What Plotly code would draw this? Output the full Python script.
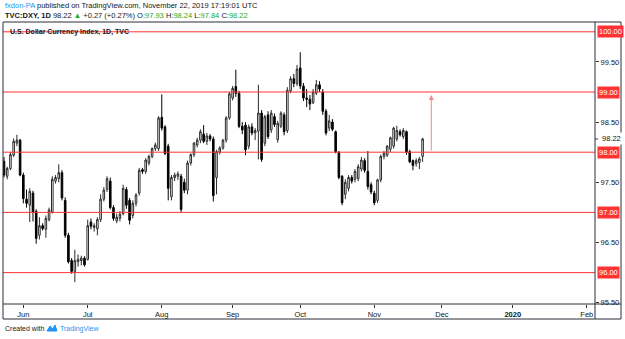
import plotly.graph_objects as go
import pandas as pd

# ---------------- data ----------------
start_date = "2019-05-24"
opens = [97.85, 97.60, 97.73, 97.95, 98.15, 98.20, 97.62, 97.22, 97.12, 97.32,
         97.02, 96.62, 96.78, 96.72, 96.88, 97.00, 97.52, 97.56, 97.66, 97.20,
         96.62, 96.20, 96.02, 96.18, 96.20, 96.24, 96.22, 96.84, 96.75, 96.73,
         96.88, 97.22, 97.38, 97.52, 97.08, 96.86, 96.90, 96.98, 97.38, 97.20,
         96.95, 97.15, 97.32, 97.71, 97.68, 97.82, 97.93, 98.06, 98.06, 98.58,
         98.42, 98.10, 97.26, 97.58, 97.60, 97.60, 97.50, 97.37, 97.82, 97.96,
         98.12, 98.20, 98.30, 98.18, 98.27, 98.22, 97.58, 98.00, 98.07, 98.20,
         98.57, 98.90, 99.09, 98.98, 98.43, 98.45, 98.10, 98.42, 98.32, 98.35,
         98.65, 98.15, 98.62, 98.37, 98.59, 98.21, 98.43, 98.62, 98.36, 99.02,
         99.22, 99.14, 99.40, 99.10, 98.90, 98.88, 98.82, 98.98, 99.12, 99.00,
         98.68, 98.40, 98.50, 98.34, 98.00, 97.60, 97.30, 97.40, 97.58, 97.55,
         97.56, 97.72, 97.86, 97.68, 97.46, 97.32, 97.20, 97.54, 97.93, 97.95,
         98.05, 98.10, 98.22, 98.34, 98.26, 98.34, 98.01, 97.86, 97.81, 97.83,
         97.93]
highs = [97.92, 97.76, 98.00, 98.23, 98.29, 98.22, 97.66, 97.38, 97.40, 97.36,
         97.05, 96.92, 96.82, 96.95, 97.08, 97.60, 97.62, 97.80, 97.70, 97.25,
         96.66, 96.24, 96.38, 96.30, 96.28, 96.27, 96.88, 96.90, 96.82, 96.92,
         97.30, 97.42, 97.60, 97.58, 97.12, 96.98, 97.02, 97.46, 97.42, 97.24,
         97.20, 97.32, 97.74, 97.74, 97.90, 97.96, 98.08, 98.16, 98.60, 98.96,
         98.45, 98.14, 97.62, 97.66, 97.68, 97.64, 97.56, 97.86, 97.98, 98.17,
         98.24, 98.38, 98.45, 98.32, 98.30, 98.26, 98.04, 98.10, 98.22, 98.60,
         99.00, 99.10, 99.37, 99.02, 98.50, 98.50, 98.46, 98.48, 98.40, 99.12,
         98.70, 98.62, 98.68, 98.70, 98.64, 98.52, 98.68, 98.66, 99.08, 99.26,
         99.30, 99.45, 99.66, 99.15, 99.05, 98.95, 99.05, 99.20, 99.18, 99.05,
         98.72, 98.62, 98.55, 98.36, 98.02, 97.62, 97.55, 97.62, 97.62, 97.72,
         97.80, 97.92, 97.90, 98.02, 97.50, 97.36, 97.56, 97.96, 98.02, 98.12,
         98.26, 98.42, 98.44, 98.38, 98.40, 98.36, 98.04, 97.88, 97.90, 97.92,
         98.24]
lows = [97.58, 97.55, 97.70, 97.92, 98.10, 97.60, 97.15, 97.08, 96.84, 96.85,
        96.48, 96.55, 96.70, 96.58, 96.85, 96.98, 97.48, 97.50, 97.20, 96.58,
        96.15, 95.98, 95.84, 96.10, 96.12, 96.10, 96.20, 96.72, 96.68, 96.62,
        96.84, 97.18, 97.34, 97.05, 96.86, 96.82, 96.85, 96.95, 97.06, 96.80,
        96.90, 97.10, 97.28, 97.64, 97.64, 97.78, 97.90, 98.02, 98.02, 98.36,
        97.95, 97.20, 97.20, 97.52, 97.54, 97.00, 97.32, 97.30, 97.78, 97.92,
        98.08, 98.15, 98.15, 98.12, 98.18, 97.18, 97.30, 97.96, 98.04, 98.16,
        98.54, 98.86, 98.92, 98.40, 98.30, 97.95, 98.05, 98.28, 98.20, 97.88,
        97.84, 98.10, 98.22, 98.32, 98.42, 98.16, 98.40, 98.28, 98.32, 98.98,
        99.08, 99.10, 99.05, 98.85, 98.75, 98.70, 98.80, 98.95, 99.00, 98.62,
        98.28, 98.35, 98.35, 97.98, 97.55, 97.12, 97.22, 97.35, 97.48, 97.50,
        97.52, 97.68, 97.66, 97.38, 97.30, 97.12, 97.16, 97.50, 97.88, 97.92,
        98.00, 98.06, 98.18, 98.26, 98.22, 97.96, 97.82, 97.70, 97.76, 97.72,
        97.84]
closes = [97.62, 97.73, 97.96, 98.18, 98.20, 97.62, 97.23, 97.15, 97.35, 97.00,
          96.57, 96.78, 96.73, 96.90, 97.04, 97.55, 97.58, 97.66, 97.24, 96.62,
          96.18, 96.02, 96.20, 96.22, 96.24, 96.13, 96.78, 96.77, 96.78, 96.88,
          97.22, 97.37, 97.56, 97.08, 96.90, 96.92, 96.97, 97.40, 97.12, 96.87,
          97.15, 97.29, 97.70, 97.68, 97.87, 97.93, 98.06, 98.12, 98.57, 98.40,
          97.98, 97.40, 97.58, 97.62, 97.64, 97.05, 97.37, 97.82, 97.96, 98.15,
          98.20, 98.34, 98.18, 98.27, 98.22, 97.28, 98.01, 98.07, 98.20, 98.57,
          98.97, 99.06, 98.98, 98.43, 98.37, 98.04, 98.42, 98.32, 98.36, 98.65,
          97.88, 98.59, 98.26, 98.65, 98.46, 98.48, 98.65, 98.34, 99.03, 99.22,
          99.14, 99.38, 99.10, 98.90, 98.88, 98.80, 99.00, 99.12, 99.05, 98.68,
          98.32, 98.52, 98.38, 98.01, 97.58, 97.16, 97.50, 97.58, 97.52, 97.68,
          97.76, 97.87, 97.70, 97.43, 97.34, 97.16, 97.54, 97.93, 97.98, 98.10,
          98.24, 98.40, 98.36, 98.29, 98.36, 98.00, 97.84, 97.78, 97.86, 97.89,
          98.22]

level_lines = [96.0, 97.0, 98.0, 99.0, 100.0]
axis_ticks = [95.5, 96.5, 97.5, 98.5, 99.5]
month_labels = ["Jun", "Jul", "Aug", "Sep", "Oct", "Nov", "Dec", "<b>2020</b>", "Feb"]
month_starts = ["2019-06", "2019-07", "2019-08", "2019-09", "2019-10",
                "2019-11", "2019-12", "2020-01", "2020-02"]
last_price = 98.22
target_from, target_to = 98.0, 98.95

# ---------------- positions on trading-day axis ----------------
bdays = pd.bdate_range(start_date, "2020-02-28")
xs = list(range(len(closes)))
tickvals = []
for m in month_starts:
    idx = [k for k, d in enumerate(bdays) if d.strftime("%Y-%m") == m][0]
    tickvals.append(idx)
arrow_x = len(closes) + 1.7

W, H = 625, 339
L, R, T, B = 3, 30, 22, 35
PW, PH = W - L - R, H - T - B


def px(xp):
    return (xp - L) / PW


def py(yp):
    return (H - B - yp) / PH


FONT = "Liberation Sans"
RED = "#ff3333"

fig = go.Figure()
fig.add_trace(go.Candlestick(
    x=xs, open=opens, high=highs, low=lows, close=closes,
    increasing=dict(line=dict(color="#2b2b2b", width=1), fillcolor="#ffffff"),
    decreasing=dict(line=dict(color="#000000", width=1), fillcolor="#000000"),
    whiskerwidth=0, showlegend=False, hoverinfo="skip",
))

shapes = []
for lv in level_lines:
    shapes.append(dict(type="line", xref="paper", yref="y", x0=0, x1=1, y0=lv, y1=lv,
                       line=dict(color=RED, width=1), layer="above"))
# frame
frame_col = "#2a2e39"
shapes += [
    dict(type="rect", xref="paper", yref="paper", x0=0, x1=px(621), y0=py(319), y1=1,
         line=dict(color=frame_col, width=1)),
    dict(type="line", xref="paper", yref="paper", x0=1, x1=1, y0=py(319), y1=1,
         line=dict(color=frame_col, width=1)),
    dict(type="line", xref="paper", yref="paper", x0=0, x1=px(621), y0=0, y1=0,
         line=dict(color=frame_col, width=1)),
    # last price tick
    dict(type="line", xref="paper", yref="y", x0=1, x1=px(598), y0=last_price, y1=last_price,
         line=dict(color="#333", width=1)),
    # footer logo
    dict(type="path", xref="paper", yref="paper",
         path=f"M {px(47)},{py(331)} L {px(50)},{py(326)} L {px(52.5)},{py(329)} L {px(55)},{py(325)} L {px(57)},{py(331)} Z",
         fillcolor="#2196f3", line=dict(color="#2196f3", width=1)),
]

ann = []
for lv in level_lines:
    ann.append(dict(x=px(596.5), y=lv, xref="paper", yref="y", xanchor="left", yanchor="middle",
                    text=f"{lv:.2f}", showarrow=False, bgcolor=RED, borderpad=1,
                    font=dict(family=FONT, size=7.5, color="white")))
ann.append(dict(x=px(600), y=last_price, xref="paper", yref="y", xanchor="left", yanchor="middle",
                text=f"{last_price:.2f}", showarrow=False, bgcolor="white",
                font=dict(family=FONT, size=7.5, color="#111")))
# arrow
ann.append(dict(x=arrow_x, y=target_to, ax=arrow_x, ay=target_from, xref="x", yref="y",
                axref="x", ayref="y", showarrow=True, arrowhead=2, arrowsize=1, arrowwidth=1,
                arrowcolor="rgba(255,90,90,0.75)", text=""))
# chart title
ann.append(dict(x=px(8), y=py(32), xref="paper", yref="paper", xanchor="left", yanchor="middle",
                text="<b>U.S. Dollar Currency Index, 1D, TVC</b>", showarrow=False,
                font=dict(family=FONT, size=7, color="#131722")))
# header
G = "#26a69a"
G = "#22ab22"
ann.append(dict(x=px(3), y=py(6), xref="paper", yref="paper", xanchor="left", yanchor="middle",
                text="<span style='color:#2196f3'>fxdon-PA</span> published on TradingView.com, November 22, 2019 17:19:01 UTC",
                showarrow=False, font=dict(family=FONT, size=7.5, color="#131722")))
ann.append(dict(x=px(3), y=py(15.5), xref="paper", yref="paper", xanchor="left", yanchor="middle",
                text=(f"<b>TVC:DXY, 1D</b> 98.22 <span style='color:{G}'>▲</span> +0.27 (+0.27%) "
                      f"O:<span style='color:{G}'>97.93</span> H:<span style='color:{G}'>98.24</span> "
                      f"L:<span style='color:{G}'>97.84</span> C:<span style='color:{G}'>98.22</span>"),
                showarrow=False, font=dict(family=FONT, size=7.5, color="#131722")))
# footer
ann.append(dict(x=px(3), y=py(328.5), xref="paper", yref="paper", xanchor="left", yanchor="middle",
                text="Created with", showarrow=False, font=dict(family=FONT, size=7, color="#131722")))
ann.append(dict(x=px(58), y=py(328.5), xref="paper", yref="paper", xanchor="left", yanchor="middle",
                text="TradingView", showarrow=False, font=dict(family=FONT, size=7, color="#2196f3")))

y_top = 98 + (152.2 - T) / 60.2
y_bot = 98 - (H - B - 152.2) / 60.2
x_left = (L - 4) / 3.22
x_right = (L + PW - 4) / 3.22

fig.update_layout(
    width=W, height=H, margin=dict(l=L, r=R, t=T, b=B, pad=0),
    paper_bgcolor="white", plot_bgcolor="white",
    shapes=shapes, annotations=ann,
    font=dict(family=FONT, size=7.5, color="#131722"),
    xaxis=dict(range=[x_left, x_right], tickvals=tickvals, ticktext=month_labels,
               showgrid=False, zeroline=False, ticks="outside", ticklen=3, tickcolor="#333",
               tickfont=dict(family=FONT, size=7.5, color="#131722"),
               rangeslider=dict(visible=False), fixedrange=True),
    yaxis=dict(range=[y_bot, y_top], side="right", tickvals=axis_ticks,
               ticktext=[f"{v:.2f}" for v in axis_ticks],
               showgrid=False, zeroline=False, ticks="outside", ticklen=3, tickcolor="#333",
               tickfont=dict(family=FONT, size=7.5, color="#131722"), fixedrange=True),
)

fig.write_html("out.html")
